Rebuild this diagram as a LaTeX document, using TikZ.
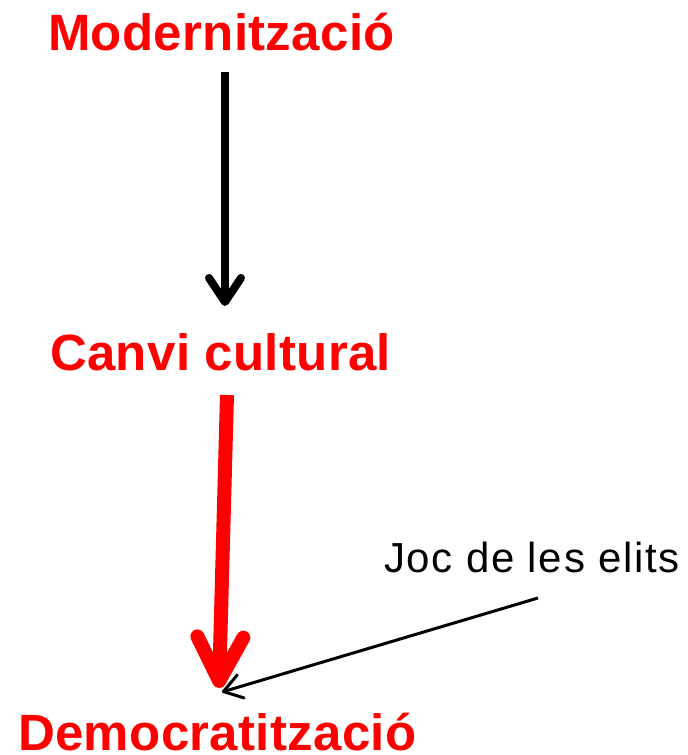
\documentclass[tikz,border=0pt]{standalone}
\usepackage{fontspec}
\setmainfont{Liberation Sans}
\usetikzlibrary{arrows.meta}
\definecolor{pptred}{RGB}{255,0,0}
\tikzset{
  bigtitle/.style={anchor=base west, inner sep=0pt, text=pptred, font=\fontsize{51}{60}\selectfont\bfseries\addfontfeatures{LetterSpace=0.6}},
  smalltext/.style={anchor=base west, inner sep=0pt, text=black, font=\fontsize{42}{48}\selectfont\addfontfeatures{LetterSpace=4}},
  blackarrow/.style={draw=black, line width=8pt, -{Straight Barb[length=24pt,width=32pt,round]}},
  redarrow/.style={draw=pptred, line width=14pt, -{Straight Barb[length=44pt,width=46pt,round]}},
  thinarrow/.style={draw=black, line width=3pt, -{Straight Barb[length=18pt,width=24pt,round]}},
}
\begin{document}
\begin{tikzpicture}[x=1pt,y=-1pt]
\useasboundingbox[fill=white] (0,0) rectangle (688,755);
\node[bigtitle] (mod) at (48,50) {Modernització};
\node[bigtitle] (canvi) at (50,370) {Canvi cultural};
\node[bigtitle] (dem) at (18,750) {Democratització};
\node[smalltext] (joc) at (384,572) {Joc de les elits};
\coordinate (a1s) at (225,72);
\coordinate (a1e) at (225,306);
\coordinate (a2s) at (227,395);
\coordinate (a2e) at (219,688);
\coordinate (a3s) at (538,598);
\coordinate (a3e) at (222,692);
\draw[blackarrow] (a1s) -- (a1e);
\draw[redarrow] (a2s) -- (a2e);
\draw[thinarrow] (a3s) -- (a3e);
\end{tikzpicture}
\end{document}
